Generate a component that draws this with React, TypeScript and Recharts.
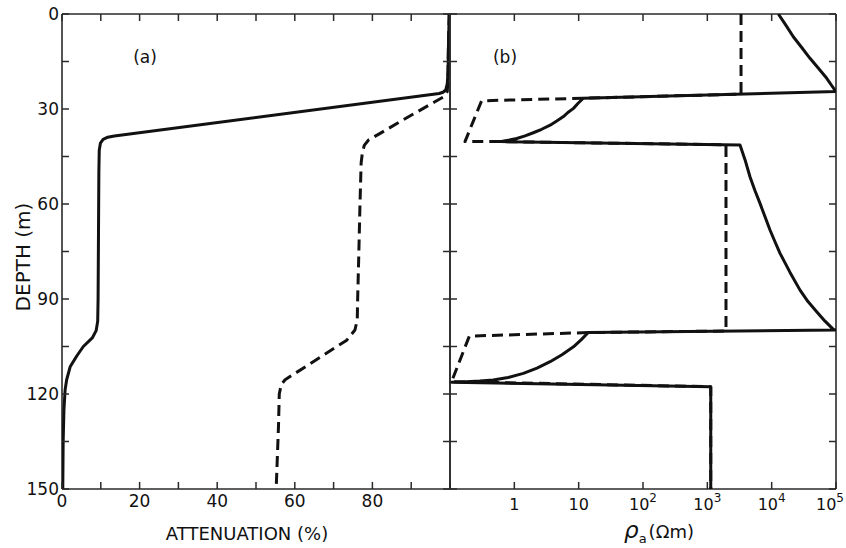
import React from "react";
import { ScatterChart, Scatter, XAxis, YAxis } from "recharts";

// axes
const depthTicks = [0, 15, 30, 45, 60, 75, 90, 105, 120, 135, 150];
const depthLabels = [0, 30, 60, 90, 120, 150];
const attTicks = [0, 10, 20, 30, 40, 50, 60, 70, 80, 90, 100];
const attLabels = [0, 20, 40, 60, 80];
const rhoTicks = [0.1, 1, 10, 100, 1000, 10000, 100000];
const rhoLabelBase = ["", "1", "10", "10", "10", "10", "10"];
const rhoLabelExp = ["", "", "", "2", "3", "4", "5"];

// (a) attenuation %, depth m
const attSolid: [number, number][] = [
  [99.8, 0], [99.6, 10], [99.5, 18], [99.3, 22], [98.9, 24], [98.2, 24.7], [97.2, 25.1],
  [13.5, 38.5], [11.8, 38.9], [10.6, 39.6], [9.9, 40.8], [9.6, 43], [9.5, 50], [9.4, 70],
  [9.3, 90], [9.2, 97], [8.8, 100], [7.8, 102.3], [5.5, 105], [3.8, 108], [2.1, 111.4],
  [1.2, 115.5], [0.8, 118.7], [0.5, 125], [0.3, 135], [0.2, 150],
];
const attDashed: [number, number][] = [
  [99.8, 0], [99.6, 10], [99.5, 18], [99.4, 22], [99.3, 24.5], [98.6, 26], [96, 27.8],
  [87.1, 34], [82, 37.7], [79, 39.8], [77.9, 41.5], [77.4, 44], [77.1, 47], [76.8, 60],
  [76.5, 75.6], [76.2, 90], [76.1, 96.6], [75.5, 99.8], [73.4, 103], [57.5, 115.5],
  [56.5, 117], [56, 120], [55.8, 130], [55.5, 140], [55.2, 150],
];

// (b) apparent resistivity (ohm m), depth m
const rhoSolid: [number, number][] = [
  [12700, 0], [16700, 3.6], [21700, 7.2], [29100, 10.5], [39400, 14], [52500, 17],
  [71800, 20.3], [85100, 22.5], [100000, 24.5],
  [11.8, 26.6], [9.8, 28.2], [8.3, 29.8], [6.8, 31.1], [5.8, 32.4], [4.56, 33.8], [3.6, 35.1],
  [2.66, 36.4], [1.97, 37.5], [1.47, 38.5], [1.09, 39.3], [0.8, 39.9], [0.6, 40.3],
  [3220, 41.4], [3850, 46], [4600, 51.4], [5510, 55.8], [6590, 59.8], [7880, 64], [9420, 68.2],
  [11300, 72], [13500, 75.6], [19300, 81.6], [27600, 87.2], [36700, 90.8], [50100, 94],
  [67500, 97], [90800, 99.6], [100000, 99.8],
  [14.1, 100.6], [10.9, 102.9], [8.3, 105.1], [5.5, 107.6], [3.6, 109.8], [2.25, 111.8],
  [1.38, 113.5], [0.8, 114.8], [0.47, 115.6], [0.29, 115.9], [0.18, 116.1], [0.106, 116.3],
  [1130, 117.7], [1130, 150],
];
const rhoDashed: [number, number][] = [
  [3340, 0], [3340, 25.3], [11.8, 26.6], [0.31, 27.4], [0.171, 40.3], [0.6, 40.3],
  [1950, 41.3], [1950, 100.1], [14.1, 100.6], [0.2, 101.7], [0.106, 116.1],
  [1130, 117.7], [1130, 150],
];

const toPts = (rows: [number, number][]) => rows.map(([x, y]) => ({ x, y }));

const W = 846;
const H = 548;
const INK = "#111";
const AXIS = "#2a2a2a";
const FONT = '"DejaVu Sans", sans-serif';
const TICK = 7;
const axisLine = { stroke: AXIS, strokeWidth: 1.6 };
const solidLine = { stroke: INK, strokeWidth: 3, strokeLinejoin: "round" as const };
const dashedLine = { ...solidLine, strokeDasharray: "11 6" };

const NoDot = () => <g />;

type TickProps = { x?: number; y?: number; payload?: { value: number } };

const DepthTick = ({ x = 0, y = 0, payload }: TickProps) => {
  const v = payload?.value ?? 0;
  return (
    <g>
      <line x1={x} y1={y} x2={x + TICK} y2={y} stroke={AXIS} strokeWidth={1.5} />
      {depthLabels.includes(v) && (
        <text x={x - 3} y={y + 6} textAnchor="end" fontSize={17} fill={INK} fontFamily={FONT}>
          {v}
        </text>
      )}
    </g>
  );
};

const InLeftTick = ({ x = 0, y = 0 }: TickProps) => (
  <line x1={x} y1={y} x2={x + TICK} y2={y} stroke={AXIS} strokeWidth={1.5} />
);

const InRightTick = ({ x = 0, y = 0 }: TickProps) => (
  <line x1={x} y1={y} x2={x - TICK} y2={y} stroke={AXIS} strokeWidth={1.5} />
);

const TopTick = ({ x = 0, y = 0 }: TickProps) => (
  <line x1={x} y1={y} x2={x} y2={y + TICK} stroke={AXIS} strokeWidth={1.5} />
);

const AttTick = ({ x = 0, y = 0, payload }: TickProps) => {
  const v = payload?.value ?? 0;
  return (
    <g>
      <line x1={x} y1={y} x2={x} y2={y - TICK} stroke={AXIS} strokeWidth={1.5} />
      {attLabels.includes(v) && (
        <text x={x} y={y + 18} textAnchor="middle" fontSize={17} fill={INK} fontFamily={FONT}>
          {v}
        </text>
      )}
    </g>
  );
};

const RhoTick = ({ x = 0, y = 0, payload }: TickProps) => {
  const i = rhoTicks.indexOf(payload?.value ?? -1);
  const last = i === rhoTicks.length - 1;
  return (
    <g>
      <line x1={x} y1={y} x2={x} y2={y - TICK} stroke={AXIS} strokeWidth={1.5} />
      {i > 0 && (
        <text x={last ? x + 8 : x} y={y + 21} textAnchor={last ? "end" : "middle"}
          fontSize={16} fill={INK} fontFamily={FONT}>
          {rhoLabelBase[i]}
          {rhoLabelExp[i] && (
            <tspan dy={-8} fontSize={12}>
              {rhoLabelExp[i]}
            </tspan>
          )}
        </text>
      )}
    </g>
  );
};

const layer: React.CSSProperties = { position: "absolute", left: 0, top: 0 };

export default function App() {
  return (
    <div style={{ position: "absolute", left: 0, top: 0, width: W, height: H, background: "#fff" }}>
      {/* (a) attenuation */}
      <div style={layer}>
        <ScatterChart width={W} height={H} margin={{ top: 13, right: 395, bottom: 29, left: 0 }}>
          <XAxis xAxisId="bottom" type="number" dataKey="x" domain={[0, 100]} ticks={attTicks}
            interval={0} height={30} tickSize={0} tickMargin={0} tickLine={false}
            axisLine={axisLine} tick={AttTick} allowDataOverflow />
          <XAxis xAxisId="top" orientation="top" type="number" dataKey="x" domain={[0, 100]}
            ticks={attTicks} interval={0} height={1} tickSize={0} tickMargin={0} tickLine={false}
            axisLine={axisLine} tick={TopTick} allowDataOverflow />
          <YAxis yAxisId="left" type="number" dataKey="y" domain={[0, 150]} reversed ticks={depthTicks}
            interval={0} width={62} tickSize={0} tickMargin={0} tickLine={false}
            axisLine={axisLine} tick={DepthTick} allowDataOverflow />
          <YAxis yAxisId="right" orientation="right" type="number" dataKey="y" domain={[0, 150]} reversed
            ticks={depthTicks} interval={0} width={1} tickSize={0} tickMargin={0} tickLine={false}
            axisLine={axisLine} tick={InRightTick} allowDataOverflow />
          <Scatter data={toPts(attSolid)} xAxisId="bottom" yAxisId="left" fill={INK}
            line={solidLine} lineType="joint" shape={NoDot} isAnimationActive={false} />
          <Scatter data={toPts(attDashed)} xAxisId="bottom" yAxisId="left" fill={INK}
            line={dashedLine} lineType="joint" shape={NoDot} isAnimationActive={false} />
        </ScatterChart>
      </div>

      {/* (b) apparent resistivity */}
      <div style={layer}>
        <ScatterChart width={W} height={H} margin={{ top: 13, right: 9, bottom: 29, left: 0 }}>
          <XAxis xAxisId="bottom" type="number" scale="log" dataKey="x" domain={[0.1, 100000]}
            ticks={rhoTicks} interval={0} height={30} tickSize={0} tickMargin={0} tickLine={false}
            axisLine={axisLine} tick={RhoTick} allowDataOverflow />
          <XAxis xAxisId="top" orientation="top" type="number" scale="log" dataKey="x"
            domain={[0.1, 100000]} ticks={rhoTicks} interval={0} height={1} tickSize={0}
            tickMargin={0} tickLine={false} axisLine={axisLine} tick={TopTick} allowDataOverflow />
          <YAxis yAxisId="left" type="number" dataKey="y" domain={[0, 150]} reversed ticks={depthTicks}
            interval={0} width={450} tickSize={0} tickMargin={0} tickLine={false}
            axisLine={axisLine} tick={InLeftTick} allowDataOverflow />
          <YAxis yAxisId="right" orientation="right" type="number" dataKey="y" domain={[0, 150]} reversed
            ticks={depthTicks} interval={0} width={1} tickSize={0} tickMargin={0} tickLine={false}
            axisLine={axisLine} tick={InRightTick} allowDataOverflow />
          <Scatter data={toPts(rhoSolid)} xAxisId="bottom" yAxisId="left" fill={INK}
            line={solidLine} lineType="joint" shape={NoDot} isAnimationActive={false} />
          <Scatter data={toPts(rhoDashed)} xAxisId="bottom" yAxisId="left" fill={INK}
            line={dashedLine} lineType="joint" shape={NoDot} isAnimationActive={false} />
        </ScatterChart>
      </div>

      {/* titles */}
      <svg width={W} height={H} style={{ ...layer, pointerEvents: "none" }} fontFamily={FONT} fill={INK}>
        <text x={145} y={63} textAnchor="middle" fontSize={17}>(a)</text>
        <text x={505} y={63} textAnchor="middle" fontSize={17}>(b)</text>
        <text x={247} y={540} textAnchor="middle" fontSize={18}>ATTENUATION (%)</text>
        <text x={30} y={257} textAnchor="middle" fontSize={20} transform="rotate(-90 30 257)">
          DEPTH (m)
        </text>
        <text x={659} y={538} textAnchor="middle" fontSize={18}>
          <tspan fontSize={23} fontStyle="italic">ρ</tspan>
          <tspan fontSize={13} dy={5}>a</tspan>
          <tspan dy={-5} dx={2}>(Ωm)</tspan>
        </text>
      </svg>
    </div>
  );
}
